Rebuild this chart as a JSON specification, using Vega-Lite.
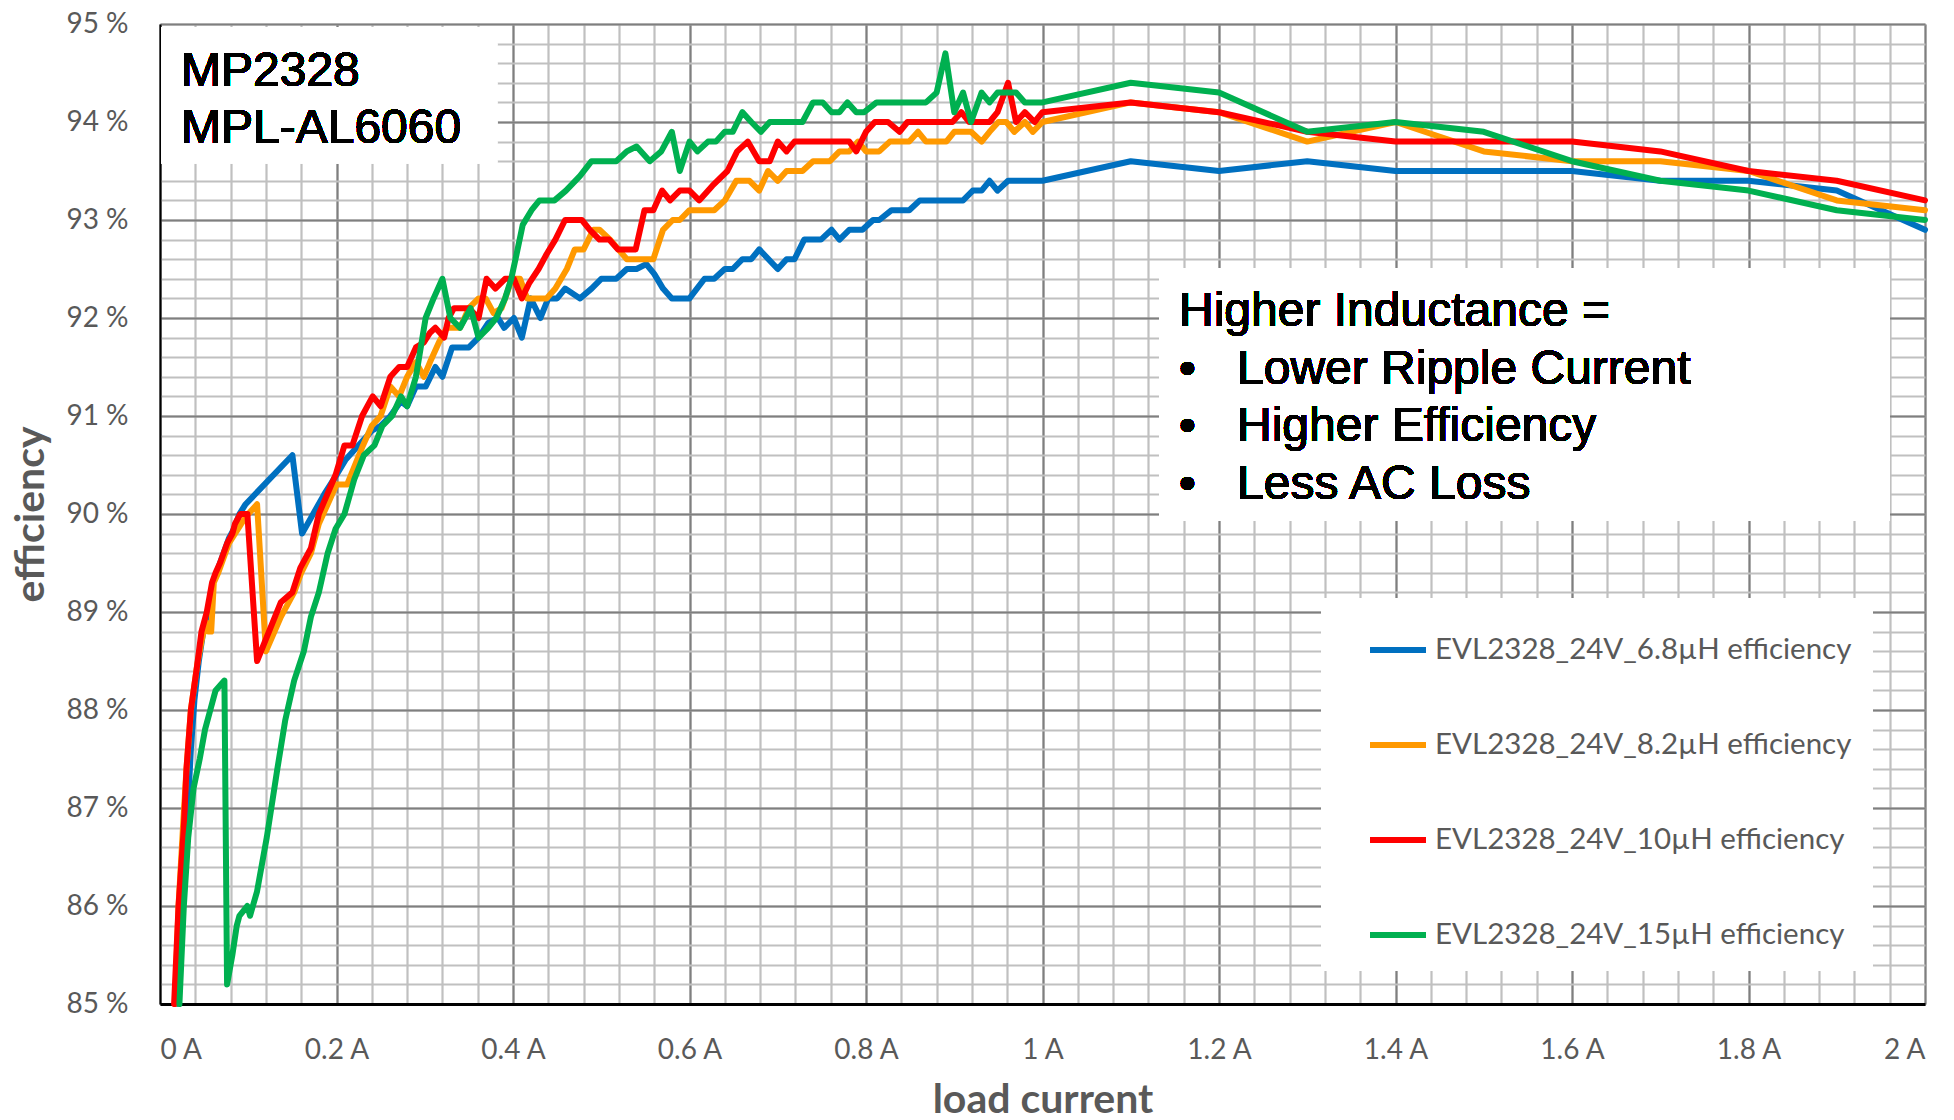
{
  "$schema": "https://vega.github.io/schema/vega-lite/v6.json",
  "width": 1765,
  "height": 980,
  "autosize": "none",
  "padding": {"left": 160, "top": 24, "right": 29, "bottom": 116},
  "background": "white",
  "config": {"view": {"stroke": null}, "font": "Lato"},
  "datasets": {
    "eff": [
      {"s":"6.8µH","I":0.019,"e":85.0},{"s":"6.8µH","I":0.023,"e":85.9},{"s":"6.8µH","I":0.027,"e":86.1},{"s":"6.8µH","I":0.031,"e":86.9},{"s":"6.8µH","I":0.035,"e":87.6},{"s":"6.8µH","I":0.039,"e":88.1},{"s":"6.8µH","I":0.044,"e":88.5},{"s":"6.8µH","I":0.049,"e":88.8},{"s":"6.8µH","I":0.054,"e":89.0},{"s":"6.8µH","I":0.06,"e":89.3},{"s":"6.8µH","I":0.066,"e":89.45},{"s":"6.8µH","I":0.072,"e":89.6},{"s":"6.8µH","I":0.078,"e":89.75},{"s":"6.8µH","I":0.084,"e":89.85},{"s":"6.8µH","I":0.09,"e":90.0},{"s":"6.8µH","I":0.097,"e":90.1},{"s":"6.8µH","I":0.15,"e":90.6},{"s":"6.8µH","I":0.161,"e":89.8},{"s":"6.8µH","I":0.186,"e":90.2},{"s":"6.8µH","I":0.2,"e":90.4},{"s":"6.8µH","I":0.21,"e":90.55},{"s":"6.8µH","I":0.22,"e":90.65},{"s":"6.8µH","I":0.23,"e":90.75},{"s":"6.8µH","I":0.24,"e":90.85},{"s":"6.8µH","I":0.25,"e":90.9},{"s":"6.8µH","I":0.261,"e":91.0},{"s":"6.8µH","I":0.273,"e":91.15},{"s":"6.8µH","I":0.28,"e":91.1},{"s":"6.8µH","I":0.29,"e":91.3},{"s":"6.8µH","I":0.301,"e":91.3},{"s":"6.8µH","I":0.312,"e":91.5},{"s":"6.8µH","I":0.32,"e":91.4},{"s":"6.8µH","I":0.331,"e":91.7},{"s":"6.8µH","I":0.35,"e":91.7},{"s":"6.8µH","I":0.361,"e":91.8},{"s":"6.8µH","I":0.372,"e":91.95},{"s":"6.8µH","I":0.383,"e":92.0},{"s":"6.8µH","I":0.39,"e":91.9},{"s":"6.8µH","I":0.401,"e":92.0},{"s":"6.8µH","I":0.41,"e":91.8},{"s":"6.8µH","I":0.42,"e":92.2},{"s":"6.8µH","I":0.431,"e":92.0},{"s":"6.8µH","I":0.44,"e":92.2},{"s":"6.8µH","I":0.45,"e":92.2},{"s":"6.8µH","I":0.459,"e":92.3},{"s":"6.8µH","I":0.476,"e":92.2},{"s":"6.8µH","I":0.489,"e":92.3},{"s":"6.8µH","I":0.5,"e":92.4},{"s":"6.8µH","I":0.517,"e":92.4},{"s":"6.8µH","I":0.529,"e":92.5},{"s":"6.8µH","I":0.54,"e":92.5},{"s":"6.8µH","I":0.551,"e":92.55},{"s":"6.8µH","I":0.56,"e":92.45},{"s":"6.8µH","I":0.57,"e":92.3},{"s":"6.8µH","I":0.58,"e":92.2},{"s":"6.8µH","I":0.6,"e":92.2},{"s":"6.8µH","I":0.617,"e":92.4},{"s":"6.8µH","I":0.628,"e":92.4},{"s":"6.8µH","I":0.64,"e":92.5},{"s":"6.8µH","I":0.649,"e":92.5},{"s":"6.8µH","I":0.66,"e":92.6},{"s":"6.8µH","I":0.67,"e":92.6},{"s":"6.8µH","I":0.679,"e":92.7},{"s":"6.8µH","I":0.7,"e":92.5},{"s":"6.8µH","I":0.71,"e":92.6},{"s":"6.8µH","I":0.719,"e":92.6},{"s":"6.8µH","I":0.73,"e":92.8},{"s":"6.8µH","I":0.749,"e":92.8},{"s":"6.8µH","I":0.761,"e":92.9},{"s":"6.8µH","I":0.77,"e":92.8},{"s":"6.8µH","I":0.781,"e":92.9},{"s":"6.8µH","I":0.796,"e":92.9},{"s":"6.8µH","I":0.808,"e":93.0},{"s":"6.8µH","I":0.815,"e":93.0},{"s":"6.8µH","I":0.829,"e":93.1},{"s":"6.8µH","I":0.849,"e":93.1},{"s":"6.8µH","I":0.861,"e":93.2},{"s":"6.8µH","I":0.91,"e":93.2},{"s":"6.8µH","I":0.921,"e":93.3},{"s":"6.8µH","I":0.931,"e":93.3},{"s":"6.8µH","I":0.94,"e":93.4},{"s":"6.8µH","I":0.949,"e":93.3},{"s":"6.8µH","I":0.961,"e":93.4},{"s":"6.8µH","I":1.0,"e":93.4},{"s":"6.8µH","I":1.1,"e":93.6},{"s":"6.8µH","I":1.2,"e":93.5},{"s":"6.8µH","I":1.3,"e":93.6},{"s":"6.8µH","I":1.4,"e":93.5},{"s":"6.8µH","I":1.5,"e":93.5},{"s":"6.8µH","I":1.6,"e":93.5},{"s":"6.8µH","I":1.7,"e":93.4},{"s":"6.8µH","I":1.8,"e":93.4},{"s":"6.8µH","I":1.9,"e":93.3},{"s":"6.8µH","I":2.0,"e":92.9},

      {"s":"8.2µH","I":0.017,"e":85.0},{"s":"8.2µH","I":0.021,"e":86.0},{"s":"8.2µH","I":0.026,"e":86.8},{"s":"8.2µH","I":0.03,"e":87.4},{"s":"8.2µH","I":0.035,"e":88.0},{"s":"8.2µH","I":0.042,"e":88.45},{"s":"8.2µH","I":0.047,"e":88.7},{"s":"8.2µH","I":0.052,"e":88.9},{"s":"8.2µH","I":0.055,"e":88.8},{"s":"8.2µH","I":0.058,"e":88.8},{"s":"8.2µH","I":0.061,"e":89.3},{"s":"8.2µH","I":0.066,"e":89.4},{"s":"8.2µH","I":0.072,"e":89.55},{"s":"8.2µH","I":0.078,"e":89.7},{"s":"8.2µH","I":0.085,"e":89.8},{"s":"8.2µH","I":0.092,"e":89.9},{"s":"8.2µH","I":0.1,"e":90.0},{"s":"8.2µH","I":0.11,"e":90.1},{"s":"8.2µH","I":0.12,"e":88.6},{"s":"8.2µH","I":0.137,"e":88.95},{"s":"8.2µH","I":0.152,"e":89.2},{"s":"8.2µH","I":0.16,"e":89.4},{"s":"8.2µH","I":0.171,"e":89.6},{"s":"8.2µH","I":0.18,"e":89.9},{"s":"8.2µH","I":0.19,"e":90.1},{"s":"8.2µH","I":0.2,"e":90.3},{"s":"8.2µH","I":0.212,"e":90.3},{"s":"8.2µH","I":0.23,"e":90.7},{"s":"8.2µH","I":0.24,"e":90.9},{"s":"8.2µH","I":0.25,"e":91.0},{"s":"8.2µH","I":0.261,"e":91.3},{"s":"8.2µH","I":0.271,"e":91.2},{"s":"8.2µH","I":0.28,"e":91.4},{"s":"8.2µH","I":0.29,"e":91.55},{"s":"8.2µH","I":0.299,"e":91.4},{"s":"8.2µH","I":0.306,"e":91.55},{"s":"8.2µH","I":0.316,"e":91.75},{"s":"8.2µH","I":0.325,"e":91.9},{"s":"8.2µH","I":0.34,"e":91.9},{"s":"8.2µH","I":0.35,"e":92.1},{"s":"8.2µH","I":0.361,"e":92.2},{"s":"8.2µH","I":0.369,"e":92.2},{"s":"8.2µH","I":0.378,"e":92.05},{"s":"8.2µH","I":0.387,"e":92.1},{"s":"8.2µH","I":0.399,"e":92.4},{"s":"8.2µH","I":0.408,"e":92.4},{"s":"8.2µH","I":0.416,"e":92.2},{"s":"8.2µH","I":0.438,"e":92.2},{"s":"8.2µH","I":0.448,"e":92.3},{"s":"8.2µH","I":0.461,"e":92.5},{"s":"8.2µH","I":0.47,"e":92.7},{"s":"8.2µH","I":0.48,"e":92.7},{"s":"8.2µH","I":0.491,"e":92.9},{"s":"8.2µH","I":0.498,"e":92.9},{"s":"8.2µH","I":0.51,"e":92.8},{"s":"8.2µH","I":0.529,"e":92.6},{"s":"8.2µH","I":0.559,"e":92.6},{"s":"8.2µH","I":0.57,"e":92.9},{"s":"8.2µH","I":0.581,"e":93.0},{"s":"8.2µH","I":0.589,"e":93.0},{"s":"8.2µH","I":0.6,"e":93.1},{"s":"8.2µH","I":0.628,"e":93.1},{"s":"8.2µH","I":0.64,"e":93.2},{"s":"8.2µH","I":0.653,"e":93.4},{"s":"8.2µH","I":0.668,"e":93.4},{"s":"8.2µH","I":0.679,"e":93.3},{"s":"8.2µH","I":0.689,"e":93.5},{"s":"8.2µH","I":0.7,"e":93.4},{"s":"8.2µH","I":0.71,"e":93.5},{"s":"8.2µH","I":0.728,"e":93.5},{"s":"8.2µH","I":0.74,"e":93.6},{"s":"8.2µH","I":0.759,"e":93.6},{"s":"8.2µH","I":0.77,"e":93.7},{"s":"8.2µH","I":0.781,"e":93.7},{"s":"8.2µH","I":0.791,"e":93.8},{"s":"8.2µH","I":0.8,"e":93.7},{"s":"8.2µH","I":0.815,"e":93.7},{"s":"8.2µH","I":0.827,"e":93.8},{"s":"8.2µH","I":0.849,"e":93.8},{"s":"8.2µH","I":0.859,"e":93.9},{"s":"8.2µH","I":0.868,"e":93.8},{"s":"8.2µH","I":0.891,"e":93.8},{"s":"8.2µH","I":0.9,"e":93.9},{"s":"8.2µH","I":0.919,"e":93.9},{"s":"8.2µH","I":0.931,"e":93.8},{"s":"8.2µH","I":0.94,"e":93.9},{"s":"8.2µH","I":0.95,"e":94.0},{"s":"8.2µH","I":0.959,"e":94.0},{"s":"8.2µH","I":0.968,"e":93.9},{"s":"8.2µH","I":0.98,"e":94.0},{"s":"8.2µH","I":0.989,"e":93.9},{"s":"8.2µH","I":1.0,"e":94.0},{"s":"8.2µH","I":1.1,"e":94.2},{"s":"8.2µH","I":1.2,"e":94.1},{"s":"8.2µH","I":1.3,"e":93.8},{"s":"8.2µH","I":1.4,"e":94.0},{"s":"8.2µH","I":1.5,"e":93.7},{"s":"8.2µH","I":1.6,"e":93.6},{"s":"8.2µH","I":1.7,"e":93.6},{"s":"8.2µH","I":1.8,"e":93.5},{"s":"8.2µH","I":1.9,"e":93.2},{"s":"8.2µH","I":2.0,"e":93.1},

      {"s":"10µH","I":0.016,"e":85.0},{"s":"10µH","I":0.021,"e":86.0},{"s":"10µH","I":0.027,"e":86.8},{"s":"10µH","I":0.03,"e":87.4},{"s":"10µH","I":0.035,"e":88.0},{"s":"10µH","I":0.042,"e":88.45},{"s":"10µH","I":0.047,"e":88.8},{"s":"10µH","I":0.053,"e":89.0},{"s":"10µH","I":0.059,"e":89.3},{"s":"10µH","I":0.063,"e":89.4},{"s":"10µH","I":0.068,"e":89.5},{"s":"10µH","I":0.072,"e":89.6},{"s":"10µH","I":0.076,"e":89.7},{"s":"10µH","I":0.082,"e":89.8},{"s":"10µH","I":0.085,"e":89.9},{"s":"10µH","I":0.091,"e":90.0},{"s":"10µH","I":0.099,"e":90.0},{"s":"10µH","I":0.11,"e":88.5},{"s":"10µH","I":0.137,"e":89.1},{"s":"10µH","I":0.15,"e":89.2},{"s":"10µH","I":0.159,"e":89.45},{"s":"10µH","I":0.171,"e":89.65},{"s":"10µH","I":0.18,"e":90.0},{"s":"10µH","I":0.199,"e":90.4},{"s":"10µH","I":0.209,"e":90.7},{"s":"10µH","I":0.218,"e":90.7},{"s":"10µH","I":0.229,"e":91.0},{"s":"10µH","I":0.241,"e":91.2},{"s":"10µH","I":0.25,"e":91.1},{"s":"10µH","I":0.261,"e":91.4},{"s":"10µH","I":0.271,"e":91.5},{"s":"10µH","I":0.28,"e":91.5},{"s":"10µH","I":0.29,"e":91.7},{"s":"10µH","I":0.299,"e":91.75},{"s":"10µH","I":0.306,"e":91.85},{"s":"10µH","I":0.312,"e":91.9},{"s":"10µH","I":0.322,"e":91.8},{"s":"10µH","I":0.327,"e":92.0},{"s":"10µH","I":0.333,"e":92.1},{"s":"10µH","I":0.35,"e":92.1},{"s":"10µH","I":0.361,"e":92.0},{"s":"10µH","I":0.37,"e":92.4},{"s":"10µH","I":0.38,"e":92.3},{"s":"10µH","I":0.391,"e":92.4},{"s":"10µH","I":0.401,"e":92.4},{"s":"10µH","I":0.41,"e":92.2},{"s":"10µH","I":0.418,"e":92.35},{"s":"10µH","I":0.429,"e":92.5},{"s":"10µH","I":0.438,"e":92.65},{"s":"10µH","I":0.448,"e":92.8},{"s":"10µH","I":0.459,"e":93.0},{"s":"10µH","I":0.478,"e":93.0},{"s":"10µH","I":0.487,"e":92.9},{"s":"10µH","I":0.498,"e":92.8},{"s":"10µH","I":0.509,"e":92.8},{"s":"10µH","I":0.519,"e":92.7},{"s":"10µH","I":0.539,"e":92.7},{"s":"10µH","I":0.549,"e":93.1},{"s":"10µH","I":0.559,"e":93.1},{"s":"10µH","I":0.569,"e":93.3},{"s":"10µH","I":0.578,"e":93.2},{"s":"10µH","I":0.589,"e":93.3},{"s":"10µH","I":0.6,"e":93.3},{"s":"10µH","I":0.611,"e":93.2},{"s":"10µH","I":0.626,"e":93.35},{"s":"10µH","I":0.643,"e":93.5},{"s":"10µH","I":0.654,"e":93.7},{"s":"10µH","I":0.666,"e":93.8},{"s":"10µH","I":0.679,"e":93.6},{"s":"10µH","I":0.691,"e":93.6},{"s":"10µH","I":0.7,"e":93.8},{"s":"10µH","I":0.71,"e":93.7},{"s":"10µH","I":0.719,"e":93.8},{"s":"10µH","I":0.781,"e":93.8},{"s":"10µH","I":0.789,"e":93.7},{"s":"10µH","I":0.8,"e":93.9},{"s":"10µH","I":0.81,"e":94.0},{"s":"10µH","I":0.825,"e":94.0},{"s":"10µH","I":0.838,"e":93.9},{"s":"10µH","I":0.847,"e":94.0},{"s":"10µH","I":0.898,"e":94.0},{"s":"10µH","I":0.908,"e":94.1},{"s":"10µH","I":0.917,"e":94.0},{"s":"10µH","I":0.94,"e":94.0},{"s":"10µH","I":0.949,"e":94.1},{"s":"10µH","I":0.961,"e":94.4},{"s":"10µH","I":0.97,"e":94.0},{"s":"10µH","I":0.98,"e":94.1},{"s":"10µH","I":0.991,"e":94.0},{"s":"10µH","I":1.0,"e":94.1},{"s":"10µH","I":1.1,"e":94.2},{"s":"10µH","I":1.2,"e":94.1},{"s":"10µH","I":1.3,"e":93.9},{"s":"10µH","I":1.4,"e":93.8},{"s":"10µH","I":1.5,"e":93.8},{"s":"10µH","I":1.6,"e":93.8},{"s":"10µH","I":1.7,"e":93.7},{"s":"10µH","I":1.8,"e":93.5},{"s":"10µH","I":1.9,"e":93.4},{"s":"10µH","I":2.0,"e":93.2},

      {"s":"15µH","I":0.022,"e":85.0},{"s":"15µH","I":0.027,"e":86.0},{"s":"15µH","I":0.032,"e":86.7},{"s":"15µH","I":0.038,"e":87.2},{"s":"15µH","I":0.045,"e":87.5},{"s":"15µH","I":0.051,"e":87.8},{"s":"15µH","I":0.057,"e":88.0},{"s":"15µH","I":0.063,"e":88.2},{"s":"15µH","I":0.068,"e":88.25},{"s":"15µH","I":0.073,"e":88.3},{"s":"15µH","I":0.076,"e":85.2},{"s":"15µH","I":0.082,"e":85.5},{"s":"15µH","I":0.087,"e":85.8},{"s":"15µH","I":0.09,"e":85.9},{"s":"15µH","I":0.099,"e":86.0},{"s":"15µH","I":0.102,"e":85.9},{"s":"15µH","I":0.11,"e":86.15},{"s":"15µH","I":0.121,"e":86.7},{"s":"15µH","I":0.133,"e":87.4},{"s":"15µH","I":0.142,"e":87.9},{"s":"15µH","I":0.152,"e":88.3},{"s":"15µH","I":0.163,"e":88.6},{"s":"15µH","I":0.171,"e":88.95},{"s":"15µH","I":0.18,"e":89.2},{"s":"15µH","I":0.19,"e":89.6},{"s":"15µH","I":0.199,"e":89.85},{"s":"15µH","I":0.209,"e":90.0},{"s":"15µH","I":0.22,"e":90.35},{"s":"15µH","I":0.231,"e":90.6},{"s":"15µH","I":0.243,"e":90.7},{"s":"15µH","I":0.252,"e":90.9},{"s":"15µH","I":0.263,"e":91.0},{"s":"15µH","I":0.273,"e":91.2},{"s":"15µH","I":0.28,"e":91.1},{"s":"15µH","I":0.29,"e":91.4},{"s":"15µH","I":0.301,"e":92.0},{"s":"15µH","I":0.31,"e":92.2},{"s":"15µH","I":0.32,"e":92.4},{"s":"15µH","I":0.329,"e":92.0},{"s":"15µH","I":0.34,"e":91.9},{"s":"15µH","I":0.352,"e":92.1},{"s":"15µH","I":0.361,"e":91.8},{"s":"15µH","I":0.372,"e":91.9},{"s":"15µH","I":0.381,"e":92.0},{"s":"15µH","I":0.391,"e":92.2},{"s":"15µH","I":0.398,"e":92.4},{"s":"15µH","I":0.404,"e":92.65},{"s":"15µH","I":0.411,"e":92.95},{"s":"15µH","I":0.421,"e":93.1},{"s":"15µH","I":0.43,"e":93.2},{"s":"15µH","I":0.447,"e":93.2},{"s":"15µH","I":0.46,"e":93.3},{"s":"15µH","I":0.476,"e":93.45},{"s":"15µH","I":0.489,"e":93.6},{"s":"15µH","I":0.517,"e":93.6},{"s":"15µH","I":0.529,"e":93.7},{"s":"15µH","I":0.54,"e":93.75},{"s":"15µH","I":0.555,"e":93.6},{"s":"15µH","I":0.568,"e":93.7},{"s":"15µH","I":0.58,"e":93.9},{"s":"15µH","I":0.589,"e":93.5},{"s":"15µH","I":0.6,"e":93.8},{"s":"15µH","I":0.609,"e":93.7},{"s":"15µH","I":0.621,"e":93.8},{"s":"15µH","I":0.63,"e":93.8},{"s":"15µH","I":0.64,"e":93.9},{"s":"15µH","I":0.649,"e":93.9},{"s":"15µH","I":0.66,"e":94.1},{"s":"15µH","I":0.67,"e":94.0},{"s":"15µH","I":0.681,"e":93.9},{"s":"15µH","I":0.691,"e":94.0},{"s":"15µH","I":0.728,"e":94.0},{"s":"15µH","I":0.74,"e":94.2},{"s":"15µH","I":0.751,"e":94.2},{"s":"15µH","I":0.761,"e":94.1},{"s":"15µH","I":0.77,"e":94.1},{"s":"15µH","I":0.779,"e":94.2},{"s":"15µH","I":0.789,"e":94.1},{"s":"15µH","I":0.798,"e":94.1},{"s":"15µH","I":0.812,"e":94.2},{"s":"15µH","I":0.868,"e":94.2},{"s":"15µH","I":0.88,"e":94.3},{"s":"15µH","I":0.89,"e":94.7},{"s":"15µH","I":0.9,"e":94.1},{"s":"15µH","I":0.91,"e":94.3},{"s":"15µH","I":0.919,"e":94.0},{"s":"15µH","I":0.931,"e":94.3},{"s":"15µH","I":0.94,"e":94.2},{"s":"15µH","I":0.949,"e":94.3},{"s":"15µH","I":0.97,"e":94.3},{"s":"15µH","I":0.98,"e":94.2},{"s":"15µH","I":1.0,"e":94.2},{"s":"15µH","I":1.1,"e":94.4},{"s":"15µH","I":1.2,"e":94.3},{"s":"15µH","I":1.3,"e":93.9},{"s":"15µH","I":1.4,"e":94.0},{"s":"15µH","I":1.5,"e":93.9},{"s":"15µH","I":1.6,"e":93.6},{"s":"15µH","I":1.7,"e":93.4},{"s":"15µH","I":1.8,"e":93.3},{"s":"15µH","I":1.9,"e":93.1},{"s":"15µH","I":2.0,"e":93.0}
    ]
  },
  "data": {"name": "eff"},
  "layer": [
    {
      "mark": {"type": "point", "opacity": 0},
      "encoding": {
        "x": {"field": "I", "type": "quantitative", "scale": {"domain": [0, 2], "nice": false, "zero": false},
          "axis": {"orient": "bottom", "values": [0,0.04,0.08,0.12,0.16,0.2,0.24,0.28,0.32,0.36,0.4,0.44,0.48,0.52,0.56,0.6,0.64,0.68,0.72,0.76,0.8,0.84,0.88,0.92,0.96,1,1.04,1.08,1.12,1.16,1.2,1.24,1.28,1.32,1.36,1.4,1.44,1.48,1.52,1.56,1.6,1.64,1.68,1.72,1.76,1.8,1.84,1.88,1.92,1.96,2],
            "grid": true, "gridColor": "#c0c0c0", "gridWidth": 2.2, "labels": false, "ticks": false, "domain": false, "title": null}},
        "y": {"field": "e", "type": "quantitative", "scale": {"domain": [85, 95], "nice": false, "zero": false},
          "axis": {"orient": "left", "values": [85,85.2,85.4,85.6,85.8,86,86.2,86.4,86.6,86.8,87,87.2,87.4,87.6,87.8,88,88.2,88.4,88.6,88.8,89,89.2,89.4,89.6,89.8,90,90.2,90.4,90.6,90.8,91,91.2,91.4,91.6,91.8,92,92.2,92.4,92.6,92.8,93,93.2,93.4,93.6,93.8,94,94.2,94.4,94.6,94.8,95],
            "grid": true, "gridColor": "#c0c0c0", "gridWidth": 2.2, "labels": false, "ticks": false, "domain": false, "title": null}}
      }
    },
    {
      "mark": {"type": "rect", "fill": "white"},
      "encoding": {
        "x": {"datum": 0.0018, "type": "quantitative", "axis": null},
        "x2": {"datum": 0.382},
        "y": {"datum": 93.58, "type": "quantitative", "axis": null},
        "y2": {"datum": 94.97}
      }
    },
    {
      "mark": {"type": "rect", "fill": "white"},
      "encoding": {
        "x": {"datum": 1.1325, "type": "quantitative", "axis": null},
        "x2": {"datum": 1.9603},
        "y": {"datum": 89.93, "type": "quantitative", "axis": null},
        "y2": {"datum": 92.51}
      }
    },
    {
      "mark": {"type": "line", "strokeWidth": 6, "strokeJoin": "round", "strokeCap": "round"},
      "encoding": {
        "x": {"field": "I", "type": "quantitative", "title": "load current",
          "axis": {"orient": "bottom", "values": [0,0.2,0.4,0.6,0.8,1,1.2,1.4,1.6,1.8,2],
            "grid": true, "gridColor": "#7f7f7f", "gridWidth": 2, "ticks": false,
            "domain": true, "domainColor": "#000000", "domainWidth": 3,
            "labelExpr": "format(datum.value, '~g') + ' A'", "labelFont": "Lato", "labelFontSize": 28, "labelColor": "#595959", "labelPadding": 32,
            "titleFont": "Lato", "titleFontSize": 41, "titleFontWeight": "bold", "titleColor": "#595959", "titlePadding": 16}},
        "y": {"field": "e", "type": "quantitative", "title": "efficiency",
          "axis": {"orient": "left", "values": [85,86,87,88,89,90,91,92,93,94,95],
            "grid": true, "gridColor": "#7f7f7f", "gridWidth": 2, "ticks": false,
            "domain": true, "domainColor": "#000000", "domainWidth": 2,
            "labelExpr": "format(datum.value, 'd') + ' %'", "labelFont": "Lato", "labelFontSize": 28, "labelColor": "#595959", "labelPadding": 32,
            "titleFont": "Lato", "titleFontSize": 41, "titleFontWeight": "bold", "titleColor": "#595959", "titlePadding": 13}},
        "color": {"field": "s", "type": "nominal",
          "scale": {"domain": ["6.8µH", "8.2µH", "10µH", "15µH"], "range": ["#0070C0", "#FF9900", "#FF0000", "#00B050"]},
          "legend": {"orient": "none", "legendX": 1161, "legendY": 574, "title": null, "fillColor": "white", "padding": 21,
            "symbolType": "stroke", "symbolSize": 3136, "symbolStrokeWidth": 6, "symbolOffset": 25, "rowPadding": 49, "labelOffset": 6,
            "labelFont": "Lato", "labelFontSize": 29.5, "labelColor": "#595959", "labelLimit": 700,
            "labelExpr": "'EVL2328_24V_' + datum.label + ' efficiency'"}}
      }
    },
    {
      "mark": {"type": "text", "text": ["MP2328", "MPL-AL6060"], "font": "Liberation Sans", "fontWeight": "normal", "fontSize": 48, "lineHeight": 57, "align": "left", "baseline": "alphabetic", "color": "#000000"},
      "encoding": {
        "x": {"datum": 0.0238, "type": "quantitative", "axis": null},
        "y": {"datum": 94.37, "type": "quantitative", "axis": null}
      }
    },
    {
      "mark": {"type": "text", "text": ["Higher Inductance =", "•", "•", "•"], "font": "Liberation Sans", "fontWeight": "normal", "fontSize": 48, "lineHeight": 57.5, "align": "left", "baseline": "alphabetic", "color": "#000000"},
      "encoding": {
        "x": {"datum": 1.1547, "type": "quantitative", "axis": null},
        "y": {"datum": 91.918, "type": "quantitative", "axis": null}
      }
    },
    {
      "mark": {"type": "text", "text": ["Lower Ripple Current", "Higher Efficiency", "Less AC Loss"], "font": "Liberation Sans", "fontWeight": "normal", "fontSize": 48, "lineHeight": 57.5, "align": "left", "baseline": "alphabetic", "color": "#000000"},
      "encoding": {
        "x": {"datum": 1.2204, "type": "quantitative", "axis": null},
        "y": {"datum": 91.327, "type": "quantitative", "axis": null}
      }
    }
  ],
  "resolve": {"axis": {"x": "independent", "y": "independent"}}
}
